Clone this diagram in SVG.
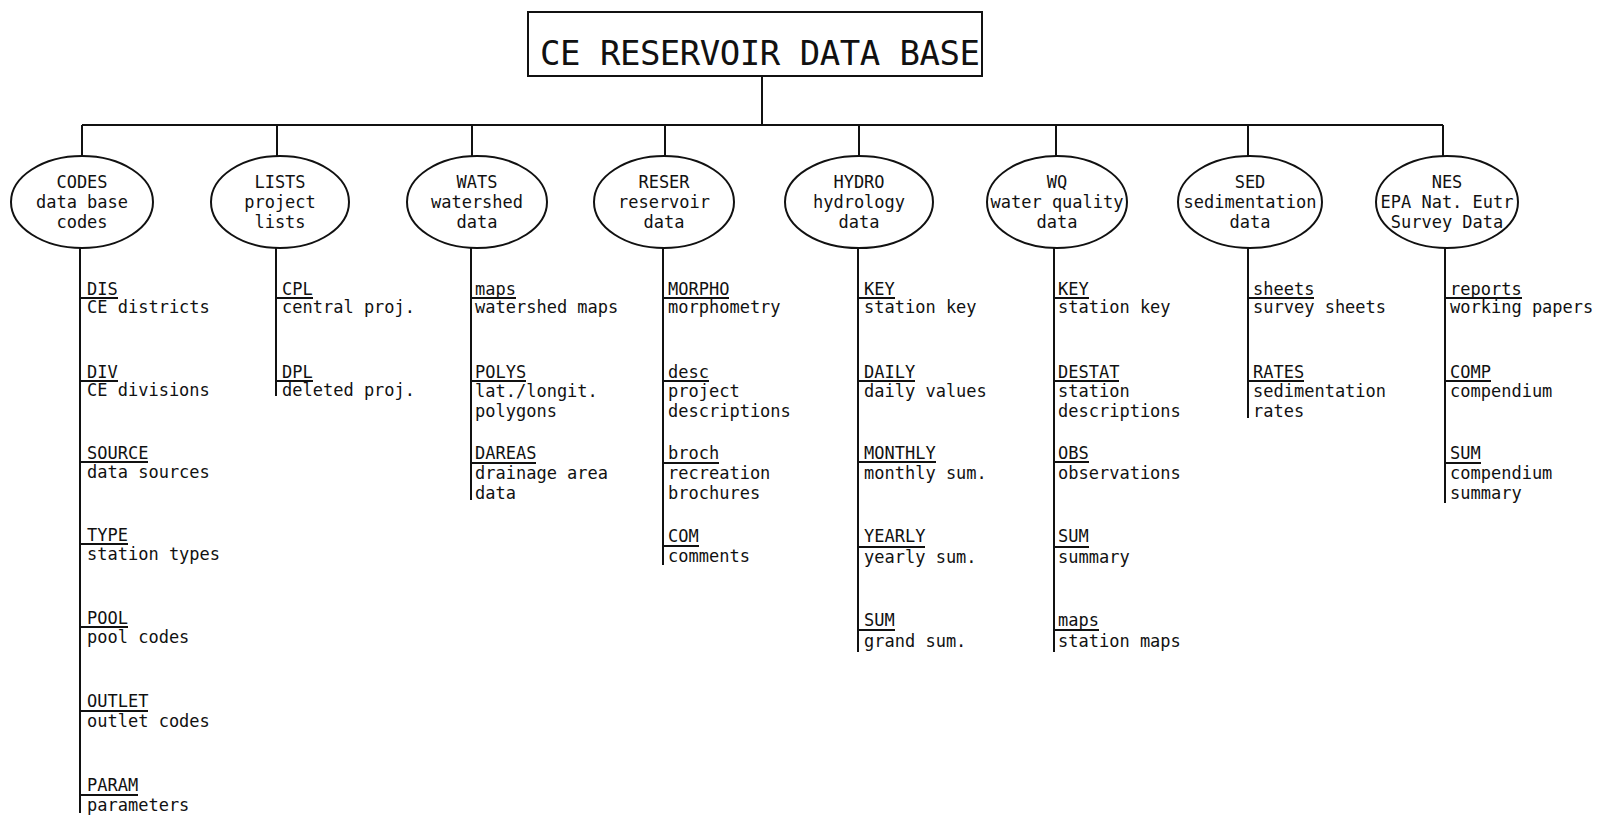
<svg xmlns="http://www.w3.org/2000/svg" width="1606" height="824" viewBox="0 0 1606 824">
<style>
text{font-family:"DejaVu Sans Mono","Liberation Mono",monospace;font-size:17px;fill:#111}
.t{font-size:34px}
.m{text-anchor:middle}
.ln{stroke:#111;stroke-width:2;fill:none}
.n{fill:#fff;stroke:#111;stroke-width:2}
</style>
<rect width="1606" height="824" fill="#fff"/>
<g id="connectors" class="ln">
<path d="M762 76V125M82 125H1443M82 125V157M277 125V157M472 125V157M665 125V157M859 125V157M1056 125V157M1248 125V157M1443 125V156"/>
<path d="M80 248V813M80 298H118M80 381H118M80 462H148M80 544H128M80 627H128M80 711H148M80 795H138"/>
<path d="M276 248V396M276 298H313M276 381H313"/>
<path d="M471 248V500M471 298H516M471 381H526M471 463H536"/>
<path d="M663 248V565M663 298H729M663 381H709M663 463H719M663 546H699"/>
<path d="M858 248V652M858 298H895M858 381H915M858 462H936M858 547H925M858 630H895"/>
<path d="M1054 248V652M1054 298H1089M1054 381H1119M1054 462H1089M1054 547H1089M1054 630H1099"/>
<path d="M1248 248V418M1248 298H1314M1248 381H1304"/>
<path d="M1445 248V503M1445 298H1522M1445 381H1491M1445 463H1481"/>
</g>
<g id="root"><rect class="n" x="528" y="12" width="454" height="64"/><text class="t" x="540" y="65" textLength="440">CE RESERVOIR DATA BASE</text></g>
<g id="codes"><ellipse class="n" cx="82" cy="202" rx="71" ry="46"/><text class="m" x="82" y="188">CODES</text><text class="m" x="82" y="208">data base</text><text class="m" x="82" y="228">codes</text></g>
<g id="lists"><ellipse class="n" cx="280" cy="202" rx="69" ry="46"/><text class="m" x="280" y="188">LISTS</text><text class="m" x="280" y="208">project</text><text class="m" x="280" y="228">lists</text></g>
<g id="wats"><ellipse class="n" cx="477" cy="202" rx="70" ry="46"/><text class="m" x="477" y="188">WATS</text><text class="m" x="477" y="208">watershed</text><text class="m" x="477" y="228">data</text></g>
<g id="reser"><ellipse class="n" cx="664" cy="202" rx="70" ry="46"/><text class="m" x="664" y="188">RESER</text><text class="m" x="664" y="208">reservoir</text><text class="m" x="664" y="228">data</text></g>
<g id="hydro"><ellipse class="n" cx="859" cy="202" rx="74" ry="46"/><text class="m" x="859" y="188">HYDRO</text><text class="m" x="859" y="208">hydrology</text><text class="m" x="859" y="228">data</text></g>
<g id="wq"><ellipse class="n" cx="1057" cy="202" rx="70" ry="46"/><text class="m" x="1057" y="188">WQ</text><text class="m" x="1057" y="208">water quality</text><text class="m" x="1057" y="228">data</text></g>
<g id="sed"><ellipse class="n" cx="1250" cy="202" rx="72" ry="46"/><text class="m" x="1250" y="188">SED</text><text class="m" x="1250" y="208">sedimentation</text><text class="m" x="1250" y="228">data</text></g>
<g id="nes"><ellipse class="n" cx="1447" cy="202" rx="71" ry="46"/><text class="m" x="1447" y="188">NES</text><text class="m" x="1447" y="208">EPA Nat. Eutr</text><text class="m" x="1447" y="228">Survey Data</text></g>
<g id="codes-items">
<g id="codes-dis"><text x="87" y="295">DIS</text><text x="87" y="313">CE districts</text></g>
<g id="codes-div"><text x="87" y="378">DIV</text><text x="87" y="396">CE divisions</text></g>
<g id="codes-source"><text x="87" y="459">SOURCE</text><text x="87" y="478">data sources</text></g>
<g id="codes-type"><text x="87" y="541">TYPE</text><text x="87" y="560">station types</text></g>
<g id="codes-pool"><text x="87" y="624">POOL</text><text x="87" y="643">pool codes</text></g>
<g id="codes-outlet"><text x="87" y="707">OUTLET</text><text x="87" y="727">outlet codes</text></g>
<g id="codes-param"><text x="87" y="791">PARAM</text><text x="87" y="811">parameters</text></g>
</g>
<g id="lists-items">
<g id="lists-cpl"><text x="282" y="295">CPL</text><text x="282" y="313">central proj.</text></g>
<g id="lists-dpl"><text x="282" y="378">DPL</text><text x="282" y="396">deleted proj.</text></g>
</g>
<g id="wats-items">
<g id="wats-maps"><text x="475" y="295">maps</text><text x="475" y="313">watershed maps</text></g>
<g id="wats-polys"><text x="475" y="378">POLYS</text><text x="475" y="397">lat./longit.</text><text x="475" y="417">polygons</text></g>
<g id="wats-dareas"><text x="475" y="459">DAREAS</text><text x="475" y="479">drainage area</text><text x="475" y="499">data</text></g>
</g>
<g id="reser-items">
<g id="reser-morpho"><text x="668" y="295">MORPHO</text><text x="668" y="313">morphometry</text></g>
<g id="reser-desc"><text x="668" y="378">desc</text><text x="668" y="397">project</text><text x="668" y="417">descriptions</text></g>
<g id="reser-broch"><text x="668" y="459">broch</text><text x="668" y="479">recreation</text><text x="668" y="499">brochures</text></g>
<g id="reser-com"><text x="668" y="542">COM</text><text x="668" y="562">comments</text></g>
</g>
<g id="hydro-items">
<g id="hydro-key"><text x="864" y="295">KEY</text><text x="864" y="313">station key</text></g>
<g id="hydro-daily"><text x="864" y="378">DAILY</text><text x="864" y="397">daily values</text></g>
<g id="hydro-monthly"><text x="864" y="459">MONTHLY</text><text x="864" y="479">monthly sum.</text></g>
<g id="hydro-yearly"><text x="864" y="542">YEARLY</text><text x="864" y="563">yearly sum.</text></g>
<g id="hydro-sum"><text x="864" y="626">SUM</text><text x="864" y="647">grand sum.</text></g>
</g>
<g id="wq-items">
<g id="wq-key"><text x="1058" y="295">KEY</text><text x="1058" y="313">station key</text></g>
<g id="wq-destat"><text x="1058" y="378">DESTAT</text><text x="1058" y="397">station</text><text x="1058" y="417">descriptions</text></g>
<g id="wq-obs"><text x="1058" y="459">OBS</text><text x="1058" y="479">observations</text></g>
<g id="wq-sum"><text x="1058" y="542">SUM</text><text x="1058" y="563">summary</text></g>
<g id="wq-maps"><text x="1058" y="626">maps</text><text x="1058" y="647">station maps</text></g>
</g>
<g id="sed-items">
<g id="sed-sheets"><text x="1253" y="295">sheets</text><text x="1253" y="313">survey sheets</text></g>
<g id="sed-rates"><text x="1253" y="378">RATES</text><text x="1253" y="397">sedimentation</text><text x="1253" y="417">rates</text></g>
</g>
<g id="nes-items">
<g id="nes-reports"><text x="1450" y="295">reports</text><text x="1450" y="313">working papers</text></g>
<g id="nes-comp"><text x="1450" y="378">COMP</text><text x="1450" y="397">compendium</text></g>
<g id="nes-sum"><text x="1450" y="459">SUM</text><text x="1450" y="479">compendium</text><text x="1450" y="499">summary</text></g>
</g>
</svg>
